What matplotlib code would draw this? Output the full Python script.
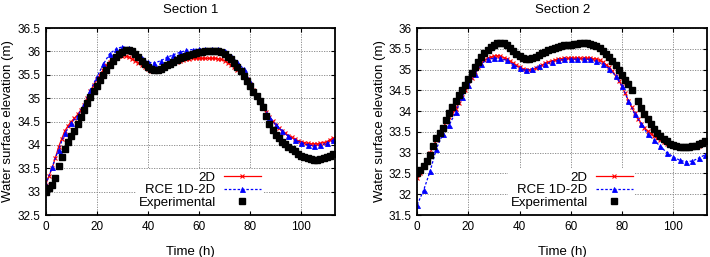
import matplotlib
matplotlib.use("Agg")
from matplotlib import pyplot
import numpy as np

pyplot.rcParams['font.family'] = ['Liberation Sans', 'DejaVu Sans']

# sampling steps (h)
dt_fine = 1.25
dt_rce = 2.5

# Section 1
s1_2d = [33.15, 33.33, 33.50, 33.72, 33.95, 34.13, 34.30, 34.41, 34.50, 34.57,
         34.65, 34.75, 34.86, 35.00, 35.15, 35.28, 35.40, 35.50, 35.60, 35.70,
         35.78, 35.84, 35.88, 35.90, 35.90, 35.90, 35.88, 35.84, 35.80, 35.76,
         35.71, 35.66, 35.62, 35.59, 35.58, 35.58, 35.60, 35.64, 35.68, 35.72,
         35.75, 35.78, 35.80, 35.82, 35.83, 35.84, 35.85, 35.85, 35.85, 35.85,
         35.85, 35.85, 35.85, 35.85, 35.84, 35.83, 35.80, 35.76, 35.71, 35.66,
         35.60, 35.55, 35.48, 35.40, 35.30, 35.18, 35.05, 34.92, 34.80, 34.70,
         34.60, 34.51, 34.43, 34.36, 34.30, 34.25, 34.20, 34.16, 34.12, 34.09,
         34.07, 34.05, 34.03, 34.02, 34.02, 34.02, 34.03, 34.05, 34.07, 34.11,
         34.15]
s1_rce = [33.15, 33.52, 33.90, 34.25, 34.47, 34.62, 34.87, 35.17, 35.45, 35.72,
          35.95, 36.05, 36.10, 36.07, 35.97, 35.85, 35.77, 35.75, 35.80, 35.87,
          35.93, 35.98, 36.02, 36.04, 36.05, 36.05, 36.05, 36.05, 36.00, 35.90,
          35.77, 35.62, 35.35, 35.05, 34.85, 34.60, 34.43, 34.30, 34.18, 34.10,
          34.05, 34.00, 33.98, 34.00, 34.03, 34.10]
s1_exp = [33.00, 33.07, 33.15, 33.30, 33.55, 33.75, 33.92, 34.06, 34.18, 34.30,
          34.45, 34.60, 34.75, 34.90, 35.03, 35.15, 35.27, 35.39, 35.50, 35.61,
          35.71, 35.80, 35.88, 35.94, 35.99, 36.02, 36.02, 36.00, 35.95, 35.88,
          35.80, 35.72, 35.66, 35.62, 35.60, 35.60, 35.62, 35.66, 35.70, 35.74,
          35.78, 35.82, 35.85, 35.88, 35.91, 35.93, 35.95, 35.97, 35.98, 35.99,
          36.00, 36.00, 36.01, 36.01, 36.00, 35.98, 35.94, 35.89, 35.83, 35.76,
          35.67, 35.57, 35.47, 35.36, 35.25, 35.14, 35.04, 34.94, 34.82, 34.62,
          34.45, 34.32, 34.22, 34.14, 34.07, 34.01, 33.96, 33.91, 33.86, 33.81,
          33.77, 33.74, 33.71, 33.69, 33.68, 33.68, 33.69, 33.71, 33.74, 33.77,
          33.81]

# Section 2
s2_2d = [32.40, 32.52, 32.65, 32.82, 33.00, 33.15, 33.30, 33.45, 33.60, 33.73,
         33.85, 33.95, 34.05, 34.20, 34.35, 34.50, 34.65, 34.80, 34.95, 35.06,
         35.15, 35.22, 35.27, 35.30, 35.32, 35.33, 35.32, 35.29, 35.25, 35.20,
         35.15, 35.10, 35.05, 35.02, 35.00, 34.99, 35.00, 35.03, 35.07, 35.11,
         35.15, 35.18, 35.20, 35.23, 35.25, 35.26, 35.27, 35.27, 35.27, 35.27,
         35.27, 35.27, 35.27, 35.27, 35.27, 35.26, 35.25, 35.22, 35.18, 35.12,
         35.05, 34.96, 34.85, 34.73, 34.60, 34.43, 34.25, 34.10, 33.95, 33.82,
         33.70, 33.60, 33.52, 33.46, 33.40, 33.35, 33.30, 33.26, 33.22, 33.19,
         33.17, 33.15, 33.13, 33.12, 33.12, 33.12, 33.13, 33.15, 33.17, 33.21,
         33.25]
s2_rce = [31.75, 32.10, 32.55, 33.10, 33.45, 33.67, 33.97, 34.35, 34.62, 34.90,
          35.13, 35.25, 35.27, 35.27, 35.22, 35.12, 35.03, 34.98, 35.02, 35.08,
          35.13, 35.18, 35.22, 35.25, 35.25, 35.25, 35.25, 35.25, 35.20, 35.13,
          35.02, 34.85, 34.60, 34.25, 33.92, 33.70, 33.45, 33.30, 33.15, 33.00,
          32.90, 32.82, 32.78, 32.80, 32.87, 32.95]
s2_exp = [32.50, 32.58, 32.68, 32.80, 32.95, 33.15, 33.35, 33.48, 33.60, 33.78,
          33.95, 34.10, 34.25, 34.38, 34.50, 34.64, 34.78, 34.92, 35.05, 35.18,
          35.30, 35.39, 35.47, 35.54, 35.60, 35.63, 35.65, 35.64, 35.60, 35.53,
          35.45, 35.38, 35.32, 35.28, 35.26, 35.26, 35.28, 35.31, 35.35, 35.39,
          35.43, 35.47, 35.50, 35.53, 35.55, 35.57, 35.58, 35.59, 35.60, 35.61,
          35.62, 35.63, 35.63, 35.63, 35.62, 35.60, 35.56, 35.51, 35.45, 35.38,
          35.30, 35.20, 35.10, 34.99, 34.88, 34.76, 34.65, 34.52, np.nan, 34.25,
          34.08, 33.93, 33.80, 33.68, 33.58, 33.48, 33.40, 33.33, 33.27, 33.22,
          33.18, 33.15, 33.14, 33.13, 33.13, 33.14, 33.15, 33.17, 33.20, 33.24,
          33.28]

panels = [
    ("Section 1", s1_2d, s1_rce, s1_exp, (32.5, 36.5), np.arange(32.5, 36.51, 0.5)),
    ("Section 2", s2_2d, s2_rce, s2_exp, (31.5, 36.0), np.arange(31.5, 36.01, 0.5)),
]
axes_rects = [
    [0.0644, 0.1634, 0.4074, 0.7276],
    [0.5877, 0.1634, 0.4081, 0.7276],
]

fig = pyplot.figure(figsize=(7.1, 2.57), dpi=100)

for rect, (title, d2, rce, exp, ylim, yticks) in zip(axes_rects, panels):
    ax = fig.add_axes(rect)
    t_fine = np.arange(len(d2)) * dt_fine
    t_rce = np.arange(len(rce)) * dt_rce
    t_exp = np.arange(len(exp)) * dt_fine

    ax.plot(t_fine, d2, color='#ff0000', lw=0.9, marker='x', ms=3.0, mew=0.8,
            label='2D', zorder=3)
    ax.plot(t_rce, rce, color='#0000ff', lw=0.9, ls=(0, (2, 1.5)), marker='^',
            ms=3.6, mew=0.6, label='RCE 1D-2D', zorder=3)
    ax.plot(t_exp, exp, ls='none', marker='s', ms=3.7, color='black',
            label='Experimental', zorder=4)

    ax.set_xlim(0, 113.2)
    ax.set_ylim(*ylim)
    ax.set_xticks([0, 20, 40, 60, 80, 100])
    ax.set_yticks(yticks)
    ax.set_yticklabels(['%g' % v for v in yticks])
    ax.grid(True, color='#808080', lw=0.6, ls=(0, (1.5, 1.5)))
    ax.tick_params(direction='in', length=3, labelsize=8.5, top=True, right=True,
                   pad=4)
    for s in ax.spines.values():
        s.set_linewidth(1.3)
        s.set_zorder(6)
    ax.set_title(title, fontsize=9.5, pad=11)
    ax.set_xlabel('Time (h)', fontsize=9.5, labelpad=10)
    ax.set_ylabel('Water surface elevation (m)', fontsize=9.5, labelpad=2)

    leg = ax.legend(loc='lower right', bbox_to_anchor=(0.752, 0.02),
                    markerfirst=False, numpoints=1, fontsize=9.5,
                    handlelength=2.8, handletextpad=0.6, labelspacing=0.02,
                    borderpad=0.2, borderaxespad=0.0, frameon=True,
                    fancybox=False)
    leg.get_frame().set_facecolor('white')
    leg.get_frame().set_edgecolor('none')
    leg.get_frame().set_alpha(1.0)
    for txt in leg.get_texts():
        txt.set_ha('right')
    leg.set_zorder(5)

pyplot.savefig("out.png", dpi=100)
